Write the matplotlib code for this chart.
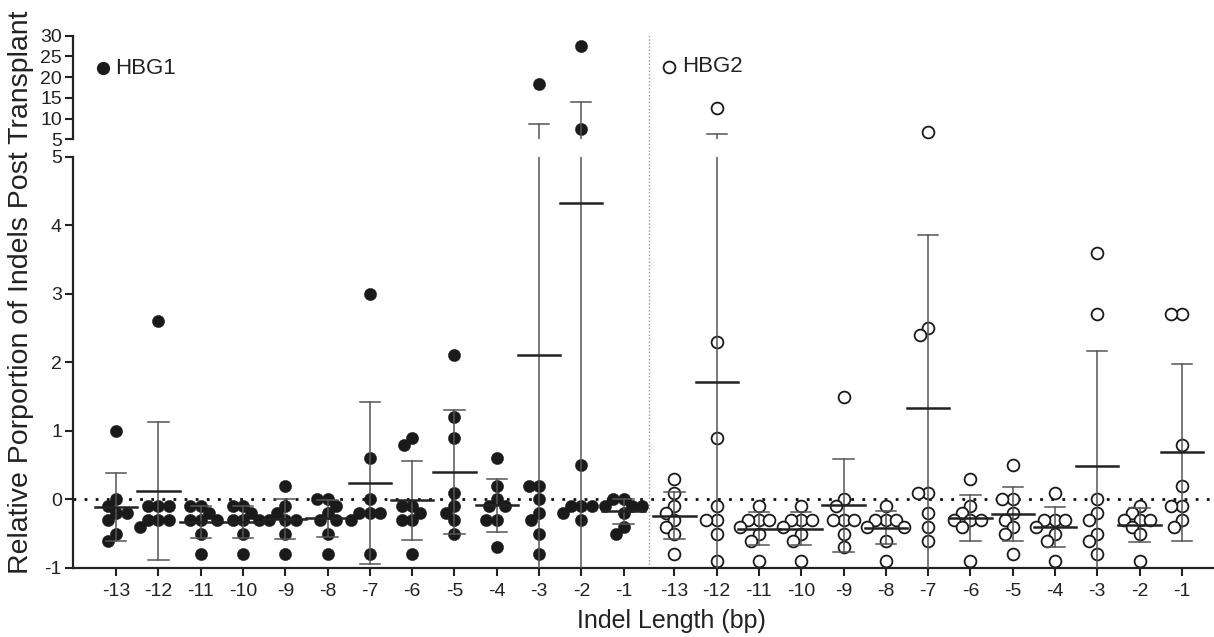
import numpy as np
import matplotlib.pyplot as plt
import matplotlib.transforms as mtransforms
from matplotlib.lines import Line2D

plt.rcParams['font.family'] = ['Liberation Sans', 'DejaVu Sans']

# ------------------------------------------------------------
# Data: relative proportion per indel length
# ------------------------------------------------------------
indel_labels = ['-13', '-12', '-11', '-10', '-9', '-8', '-7',
                '-6', '-5', '-4', '-3', '-2', '-1']

hbg1_values = [
    [1.0, 0.0, -0.1, -0.2, -0.2, -0.3, -0.5, -0.6],     # -13
    [2.6, -0.1, -0.1, -0.1, -0.3, -0.3, -0.3, -0.4],    # -12
    [-0.1, -0.1, -0.2, -0.3, -0.3, -0.3, -0.5, -0.8],   # -11
    [-0.1, -0.1, -0.2, -0.3, -0.3, -0.3, -0.5, -0.8],   # -10
    [0.2, -0.1, -0.2, -0.3, -0.3, -0.3, -0.5, -0.8],    # -9
    [0.0, 0.0, -0.1, -0.2, -0.3, -0.3, -0.5, -0.8],     # -8
    [3.0, 0.6, 0.0, -0.2, -0.2, -0.2, -0.3, -0.8],      # -7
    [0.9, 0.8, -0.1, -0.1, -0.2, -0.3, -0.3, -0.8],     # -6
    [2.1, 1.2, 0.9, 0.1, -0.1, -0.2, -0.3, -0.5],       # -5
    [0.6, 0.2, 0.0, -0.1, -0.1, -0.3, -0.3, -0.7],      # -4
    [18.3, 0.2, 0.2, 0.0, -0.2, -0.3, -0.5, -0.8],      # -3
    [27.5, 7.4, 0.5, -0.1, -0.1, -0.1, -0.2, -0.3],     # -2
    [0.0, 0.0, -0.1, -0.1, -0.1, -0.2, -0.4, -0.5],     # -1
]

hbg2_values = [
    [0.3, 0.1, -0.1, -0.2, -0.3, -0.4, -0.5, -0.8],     # -13
    [12.6, 2.3, 0.9, -0.1, -0.3, -0.3, -0.5, -0.9],     # -12
    [-0.1, -0.3, -0.3, -0.3, -0.4, -0.5, -0.6, -0.9],   # -11
    [-0.1, -0.3, -0.3, -0.3, -0.4, -0.5, -0.6, -0.9],   # -10
    [1.5, 0.0, -0.1, -0.3, -0.3, -0.3, -0.5, -0.7],     # -9
    [-0.1, -0.3, -0.3, -0.3, -0.4, -0.4, -0.6, -0.9],   # -8
    [6.8, 2.5, 2.4, 0.1, 0.1, -0.2, -0.4, -0.6],        # -7
    [0.3, -0.1, -0.2, -0.3, -0.3, -0.3, -0.4, -0.9],    # -6
    [0.5, 0.0, 0.0, -0.2, -0.3, -0.4, -0.5, -0.8],      # -5
    [0.1, -0.3, -0.3, -0.3, -0.4, -0.5, -0.6, -0.9],    # -4
    [3.6, 2.7, 0.0, -0.2, -0.3, -0.5, -0.6, -0.8],      # -3
    [-0.1, -0.2, -0.3, -0.3, -0.3, -0.4, -0.5, -0.9],   # -2
    [2.7, 2.7, 0.8, 0.2, -0.1, -0.1, -0.3, -0.4],       # -1
]

low_ticks = [-1, 0, 1, 2, 3, 4, 5]
high_ticks = [5, 10, 15, 20, 25, 30]

# ------------------------------------------------------------
# Layout
# ------------------------------------------------------------
W, H = 1214, 637
group_gap = 1.2
pos1 = np.arange(13, dtype=float)
pos2 = pos1 + 13 + group_gap - 1
divider_x = 12 + group_gap / 2
xmin, xmax = -1.02, 25.96
ybreak = 5

low_px = (73, 568, 1214, 156.7)   # left, bottom, right, top (pixels from top)
high_px = (139.3, 35.7)           # bottom, top

fig = plt.figure(figsize=(W / 100, H / 100), dpi=100)
ax = fig.add_axes([low_px[0] / W, (H - low_px[1]) / H,
                   (low_px[2] - low_px[0]) / W, (low_px[1] - low_px[3]) / H])
ax_top = fig.add_axes([low_px[0] / W, (H - high_px[0]) / H,
                       (low_px[2] - low_px[0]) / W, (high_px[0] - high_px[1]) / H])
for a in (ax, ax_top):
    a.patch.set_visible(False)

ax.set_xlim(xmin, xmax)
ax_top.set_xlim(xmin, xmax)
ax.set_ylim(-1, ybreak)
ax_top.set_ylim(ybreak, 30)

# pixel scales, used for the swarm layout
ppu_x = (low_px[2] - low_px[0]) / (xmax - xmin)
ppu_low = (low_px[1] - low_px[3]) / 6.0
ppu_high = (high_px[0] - high_px[1]) / 25.0
gap_px = low_px[3] - high_px[0]


def y_to_px(v):
    if v <= ybreak:
        return v * ppu_low
    return ybreak * ppu_low + gap_px + (v - ybreak) * ppu_high


def swarm(vals, diam=12.0, step=0.5):
    # simple beeswarm: nudge each point sideways until it clears the others
    placed = []
    offs = []
    for v in vals:
        yp = y_to_px(v)
        k = 0
        while True:
            for cand in ([0.0] if k == 0 else [-k * step, k * step]):
                ok = all((cand - px) ** 2 + (yp - py) ** 2 >= (0.85 * diam) ** 2
                         for px, py in placed)
                if ok:
                    break
            else:
                k += 1
                continue
            break
        placed.append((cand, yp))
        offs.append(cand / ppu_x)
    return np.array(offs)


def draw_group(positions, groups, filled):
    for x0, vals in zip(positions, groups):
        vals = np.asarray(vals)
        xs = x0 + swarm(vals)
        m = vals.mean()
        s = vals.std(ddof=1)
        low = vals <= ybreak
        for a, sel in ((ax, low), (ax_top, ~low)):
            if filled:
                a.scatter(xs[sel], vals[sel], s=78, color='#1a1a1a',
                          edgecolors='#1a1a1a', linewidths=0.3, zorder=2)
            else:
                a.scatter(xs[sel], vals[sel], s=72, facecolors='white',
                          edgecolors='#1a1a1a', linewidths=1.3, zorder=2)
        for a in (ax, ax_top):
            a.plot([x0, x0], [m - s, m + s], color='#555555', lw=1.1, zorder=3)
            a.plot([x0 - 0.24, x0 + 0.24], [m + s, m + s], color='#555555', lw=1.1, zorder=3)
            a.plot([x0 - 0.24, x0 + 0.24], [m - s, m - s], color='#555555', lw=1.1, zorder=3)
            a.plot([x0 - 0.5, x0 + 0.5], [m, m], color='#222222', lw=1.8, zorder=4)


draw_group(pos1, hbg1_values, True)
draw_group(pos2, hbg2_values, False)

# zero reference line
ax.axhline(0, color='#111111', lw=2, ls=(0, (1, 3)), zorder=1)

# group divider
trans = mtransforms.blended_transform_factory(ax.transData, ax.transAxes)
ax.plot([divider_x, divider_x], [0, (low_px[1] - 33) / (low_px[1] - low_px[3])],
        transform=trans, clip_on=False, color='#9a9a9a', lw=1, ls=(0, (1, 1.5)))

# axes styling
for a in (ax, ax_top):
    for side in ('top', 'right'):
        a.spines[side].set_visible(False)
    a.spines['left'].set_linewidth(1.6)
    a.spines['left'].set_color('#222222')
    a.tick_params(direction='out', length=6, width=1.5, labelsize=14,
                  colors='#222222', pad=2)
ax.spines['bottom'].set_linewidth(1.6)
ax.spines['bottom'].set_color('#222222')
ax_top.spines['bottom'].set_visible(False)
ax_top.set_xticks([])

ax.set_xticks(np.concatenate([pos1, pos2]))
ax.set_xticklabels(indel_labels + indel_labels)
ax.tick_params(axis='x', pad=5)
ax.set_yticks(low_ticks)
ax.set_yticklabels([str(t) for t in low_ticks])
ax_top.set_yticks(high_ticks)
ax_top.set_yticklabels([str(t) for t in high_ticks])

# labels
fig.text(671 / W, 1 - 628 / H, 'Indel Length (bp)', ha='center', va='baseline',
         fontsize=18, color='#222222')
fig.text(21 / W, 1 - 292 / H, 'Relative Porportion of Indels Post Transplant',
         rotation=90, ha='center', va='center', fontsize=20.5, color='#222222')

# legend entries
fig.add_artist(Line2D([103 / W], [1 - 68 / H], marker='o', markersize=8.5,
                      color='#1a1a1a', transform=fig.transFigure))
fig.text(115 / W, 1 - 68 / H, 'HBG1', ha='left', va='center', fontsize=16, color='#222222')
fig.add_artist(Line2D([669 / W], [1 - 67 / H], marker='o', markersize=8.5,
                      markerfacecolor='white', markeredgecolor='#1a1a1a',
                      markeredgewidth=1.3, transform=fig.transFigure))
fig.text(682 / W, 1 - 67 / H, 'HBG2', ha='left', va='center', fontsize=16, color='#222222')

fig.savefig('out.png', dpi=100)
